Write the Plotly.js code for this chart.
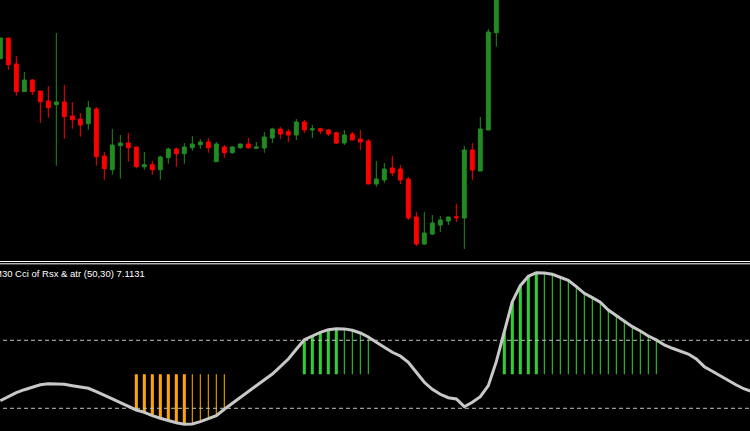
<!DOCTYPE html>
<html>
<head>
<meta charset="utf-8">
<script src="https://cdn.plot.ly/plotly-3.0.1.min.js"></script>
<style>
html,body{margin:0;padding:0;background:#000;}
#chart{width:750px;height:431px;}
</style>
</head>
<body>
<div id="chart"></div>
<script>
// ---- price pane (M30 candles) ----
const barIndex = [0,1,2,3,4,5,6,7,8,9,10,11,12,13,14,15,16,17,18,19,20,21,22,23,24,25,26,27,28,29,30,31,32,33,34,35,36,37,38,39,40,41,42,43,44,45,46,47,48,49,50,51,52,53,54,55,56,57,58,59,60,61,62];
const openP  = [124.13,126.20,123.60,120.83,122.00,120.90,119.90,119.53,119.80,118.40,118.10,117.63,119.10,114.40,113.03,115.43,115.70,115.30,113.33,113.53,113.03,114.23,115.10,114.63,115.23,115.53,115.80,113.83,115.30,114.73,115.23,115.60,115.17,115.20,116.20,117.10,116.83,116.50,117.80,117.00,117.13,117.00,116.73,115.70,116.60,116.10,115.90,111.60,112.00,113.20,113.10,112.10,108.30,105.60,106.60,107.50,107.90,108.33,108.20,115.00,112.90,117.00,126.73];
const highP  = [126.20,126.20,124.40,122.80,122.10,120.90,121.40,126.70,121.50,119.80,118.70,119.90,119.30,114.80,117.10,116.50,116.70,115.30,114.80,113.90,114.43,115.23,115.23,115.70,116.40,116.10,116.20,115.80,115.50,115.40,115.60,116.20,115.80,116.80,117.23,117.30,117.10,118.10,118.00,117.50,117.23,117.10,116.83,117.00,116.80,117.00,116.10,113.90,113.70,114.40,113.50,112.30,108.80,108.80,108.50,108.40,108.30,109.60,115.40,115.70,118.30,127.10,132.00];
const lowP   = [124.10,123.03,120.43,120.83,120.50,117.70,118.23,113.43,116.13,117.13,116.33,117.03,113.43,112.03,112.53,112.13,113.83,113.17,113.03,112.53,112.03,113.63,113.33,113.63,114.93,115.13,114.73,113.83,114.23,114.63,115.13,115.13,115.10,114.73,115.70,116.10,115.80,116.00,116.70,116.20,116.60,116.40,115.60,115.50,116.00,115.00,111.60,111.30,111.70,112.40,111.60,108.00,105.40,105.50,106.50,106.80,107.50,107.80,105.10,112.00,112.90,117.00,125.33];
const closeP = [126.20,123.53,120.83,122.00,120.83,119.83,119.23,119.80,118.33,118.03,117.50,119.23,114.33,113.13,115.50,115.70,115.23,113.33,113.53,113.03,114.30,115.10,114.63,115.30,115.60,115.80,115.23,115.60,114.73,115.30,115.60,115.23,115.30,116.30,117.10,116.60,116.50,117.80,117.00,117.13,116.90,116.60,115.70,116.50,116.00,115.80,111.60,112.10,113.10,112.70,112.00,108.20,105.60,106.70,107.70,108.00,108.30,108.23,115.00,113.00,117.10,126.80,131.50];

// ---- indicator pane: Cci of Rsx & atr (50,30) ----
const cciIndex = [0,1,2,3,4,5,6,7,8,9,10,11,12,13,14,15,16,17,18,19,20,21,22,23,24,25,26,27,28,29,30,31,32,33,34,35,36,37,38,39,40,41,42,43,44,45,46,47,48,49,50,51,52,53,54,55,56,57,58,59,60,61,62,63,64,65,66,67,68,69,70,71,72,73,74,75,76,77,78,79,80,81,82,83,84,85,86,87,88,89,90,91,92,93,94];
const cciValues = [-77.6,-64.7,-54.1,-45.3,-37.4,-30.6,-27.6,-27.6,-29.4,-33.5,-36.5,-41.2,-51.2,-60.9,-72.6,-83.5,-95.3,-105.0,-111.8,-121.8,-129.4,-136.5,-142.4,-147.1,-146.2,-139.4,-131.5,-121.8,-102.9,-85.3,-68.8,-51.2,-33.5,-17.6,0.9,22.4,45.0,73.5,101.5,112.6,123.5,131.2,134.1,133.5,129.4,121.5,109.7,94.1,78.2,64.7,53.8,35.3,5.9,-23.5,-44.1,-58.8,-68.8,-72.6,-95.3,-82.4,-65.9,-33.5,37.1,122.4,213.5,260.6,288.2,298.8,297.9,294.1,286.2,276.5,257.6,238.2,225.3,211.8,189.1,172.4,154.7,140.0,127.4,112.6,101.2,86.2,76.5,68.5,59.7,45.0,22.4,8.8,-5.0,-18.8,-31.5,-43.2,-51.2];
const levelUp = 100;
const levelDn = -100;
const caption = "M30 Cci of Rsx & atr (50,30) 7.1131";

// histogram bars beyond the levels, thick when strengthening, thin when weakening
const hist = {upThick:{x:[],y:[]}, upThin:{x:[],y:[]}, dnThick:{x:[],y:[]}, dnThin:{x:[],y:[]}};
cciValues.forEach((v,i)=>{
  const prev = i>0 ? cciValues[i-1] : v;
  const strong = Math.abs(v) > Math.abs(prev);
  if (v > levelUp){ const g = strong?hist.upThick:hist.upThin; g.x.push(cciIndex[i]); g.y.push(v); }
  else if (v < levelDn){ const g = strong?hist.dnThick:hist.dnThin; g.x.push(cciIndex[i]); g.y.push(v); }
});

const GREEN = '#32CD32', ORANGE = '#FFA500';
function histTrace(g,color,w){
  return {type:'bar', x:g.x, y:g.y, base:0, width:w, xaxis:'x', yaxis:'y2',
    marker:{color:color, line:{width:0}}, hoverinfo:'skip', showlegend:false};
}

const traces = [
  {type:'candlestick', x:barIndex, open:openP, high:highP, low:lowP, close:closeP,
   xaxis:'x', yaxis:'y',
   increasing:{line:{color:'#228B22', width:1}, fillcolor:'#228B22'},
   decreasing:{line:{color:'#FF0000', width:1}, fillcolor:'#FF0000'},
   whiskerwidth:0, showlegend:false, hoverinfo:'skip'},
  histTrace(hist.upThick, GREEN, 0.38),
  histTrace(hist.upThin, GREEN, 0.13),
  histTrace(hist.dnThick, ORANGE, 0.38),
  histTrace(hist.dnThin, ORANGE, 0.13),
  {type:'scatter', mode:'lines', x:cciIndex, y:cciValues, xaxis:'x', yaxis:'y2',
   line:{color:'#C8C8C8', width:3}, hoverinfo:'skip', showlegend:false}
];

const topDom = [0.3944, 1];
const botDom = [0, 0.3863];

const layout = {
  width:750, height:431,
  margin:{l:0,r:0,t:0,b:0,pad:0},
  paper_bgcolor:'#000', plot_bgcolor:'#000',
  showlegend:false,
  barmode:'overlay',
  xaxis:{range:[-0.04, 93.71], visible:false, showgrid:false, zeroline:false,
         rangeslider:{visible:false}, anchor:'y2', fixedrange:true},
  yaxis:{domain:topDom, range:[103.9,130], visible:false, showgrid:false, zeroline:false, fixedrange:true},
  yaxis2:{domain:botDom, range:[-166.8,322.9], visible:false, showgrid:false, zeroline:false, fixedrange:true},
  shapes:[
    {type:'line', xref:'paper', yref:'paper', x0:0, x1:1, y0:1-261.5/431, y1:1-261.5/431, line:{color:'#FFFFFF', width:1}},
    {type:'line', xref:'paper', yref:'paper', x0:0, x1:1, y0:1-263.8/431, y1:1-263.8/431, line:{color:'#FFFFFF', width:1}},
    {type:'line', xref:'paper', yref:'y2', x0:0.004, x1:1, y0:levelUp, y1:levelUp, line:{color:'#C0C0C0', width:1, dash:'4px,3px'}},
    {type:'line', xref:'paper', yref:'y2', x0:0.004, x1:1, y0:levelDn, y1:levelDn, line:{color:'#C0C0C0', width:1, dash:'4px,3px'}}
  ],
  annotations:[
    {text:caption, xref:'paper', yref:'paper', x:0, y:1-273.5/431, xanchor:'left', yanchor:'middle',
     xshift:-8.5, showarrow:false, font:{family:'Liberation Sans, Arial, sans-serif', size:9.5, color:'#FFFFFF'}}
  ]
};

Plotly.newPlot('chart', traces, layout, {displayModeBar:false, staticPlot:true});
</script>
</body>
</html>
